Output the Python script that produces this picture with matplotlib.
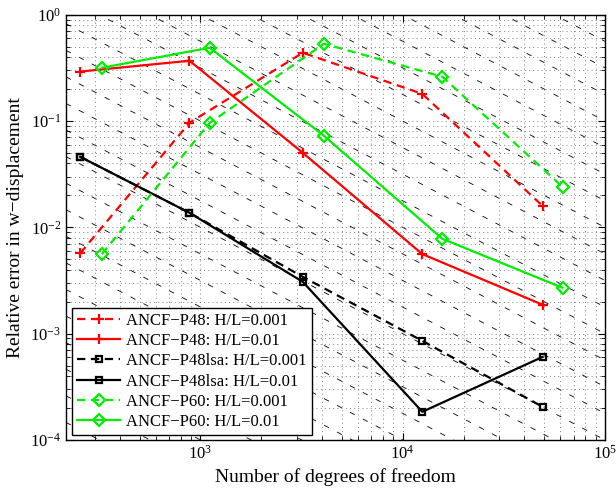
import numpy as np
import matplotlib
matplotlib.use("Agg")
import matplotlib.pyplot as plt

plt.rcParams['font.family'] = ['Liberation Serif', 'DejaVu Serif']
plt.rcParams['mathtext.fontset'] = 'stix'
plt.rcParams['lines.scale_dashes'] = False

# degrees of freedom
dof_p48 = [254, 882, 3206, 12500, 49200]
dof_p60 = [325, 1110, 4080, 15700, 61700]

# relative errors
p48_001 = [5.7e-3, 0.0963, 0.439, 0.180, 0.0159]
p48_01 = [0.292, 0.369, 0.0502, 5.6e-3, 1.87e-3]
lsa_001 = [0.0461, 0.0137, 3.42e-3, 8.55e-4, 2.05e-4]
lsa_01 = [0.0461, 0.0137, 3.07e-3, 1.84e-4, 6.04e-4]
p60_001 = [5.6e-3, 0.096, 0.533, 0.261, 0.024]
p60_01 = [0.317, 0.489, 0.0726, 7.8e-3, 2.7e-3]

labels = ["ANCF\u2212P48: H/L=0.001", "ANCF\u2212P48: H/L=0.01",
          "ANCF\u2212P48lsa: H/L=0.001", "ANCF\u2212P48lsa: H/L=0.01",
          "ANCF\u2212P60: H/L=0.001", "ANCF\u2212P60: H/L=0.01"]

xlim = (216, 1e5)
ylim = (1e-4, 1)

fig = plt.figure(figsize=(6.16, 4.91), dpi=100)
ax = fig.add_axes([0.107, 0.104, 0.875, 0.866])

# reference lines with slope -1 (error ~ C/N)
xr = np.array(xlim)
for k in range(-8, 22):
    c = 10 ** (k / 4)
    ax.plot(xr, c / xr, color='k', lw=0.6, dashes=(4, 6.5), zorder=1)

dash = (6, 4)
green = '#00ee00'
ax.plot(dof_p48, p48_001, color='r', lw=1.6, dashes=dash, marker='+', ms=7, mew=1.6, label=labels[0], zorder=3)
ax.plot(dof_p48, p48_01, color='r', lw=1.6, marker='+', ms=7, mew=1.6, label=labels[1], zorder=3)
ax.plot(dof_p48, lsa_001, color='k', lw=1.6, dashes=dash, marker='s', ms=5, mfc='none', mew=1.6, label=labels[2], zorder=3)
ax.plot(dof_p48, lsa_01, color='k', lw=1.6, marker='s', ms=5, mfc='none', mew=1.6, label=labels[3], zorder=3)
ax.plot(dof_p60, p60_001, color=green, lw=1.6, dashes=dash, marker='D', ms=6, mfc='none', mew=1.6, label=labels[4], zorder=3)
ax.plot(dof_p60, p60_01, color=green, lw=1.6, marker='D', ms=6, mfc='none', mew=1.6, label=labels[5], zorder=3)

ax.set_xscale('log')
ax.set_yscale('log')
ax.set_xlim(*xlim)
ax.set_ylim(*ylim)

ax.grid(True, which='both', color='0.4', linestyle=(0, (0.8, 2.2)), linewidth=0.5, zorder=0)
ax.tick_params(which='both', direction='in', top=True, right=True, labelsize=12)
ax.tick_params(which='major', length=5)
ax.tick_params(which='minor', length=3)
for s in ax.spines.values():
    s.set_linewidth(1.0)

ax.set_xlabel("Number of degrees of freedom", fontsize=14)
ax.set_ylabel("Relative error in w\u2212displacement", fontsize=14)

leg = ax.legend(loc='lower left', bbox_to_anchor=(0.011, 0.011), fontsize=12,
                frameon=True, fancybox=False, edgecolor='k', framealpha=1,
                handlelength=2.6, borderpad=0.3, labelspacing=0.26,
                handletextpad=0.35, borderaxespad=0)
leg.get_frame().set_linewidth(1.0)
leg.set_zorder(5)

fig.savefig("out.png", dpi=100)
